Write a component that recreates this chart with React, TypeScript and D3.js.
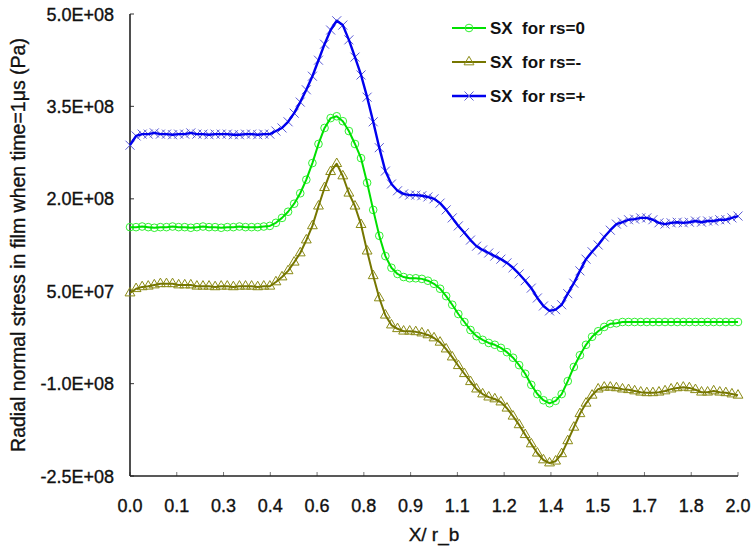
import React from 'react';
import * as d3 from 'd3';

// Radial normal stress SX in the film (MPa) sampled every 0.02 of X/r_b, from 0 to 2.0
const X_STEP = 0.02;

const sxRsZero = [
  154, 154, 155, 154, 153, 154, 154, 155, 154, 154,
  153, 154, 155, 154, 154, 153, 154, 154, 155, 154,
  154, 154, 155, 156, 161, 169, 179, 192, 209, 231,
  258, 289, 315, 331, 334, 326, 310, 289, 266, 226,
  182, 140, 107, 88, 78, 73, 71, 71, 70, 67,
  62, 54, 42, 28, 13, 0, -13, -23, -29, -34,
  -37, -42, -49, -58, -70, -84, -102, -117, -127, -132,
  -128, -117, -96, -73, -54, -37, -24, -15, -8, -3,
  -2, 0, 0, 0, 0, 0, 0, 0, 0, 0,
  0, 0, 0, 0, 0, 0, 0, 0, 0, 0,
  0,
];

const sxRsMinus = [
  47, 54, 57, 58, 60, 62, 62, 62, 60, 60,
  60, 58, 58, 58, 57, 58, 58, 57, 58, 58,
  58, 57, 58, 58, 65, 73, 83, 97, 112, 133,
  156, 188, 218, 244, 257, 237, 209, 188, 158, 115,
  75, 39, 11, -5, -11, -15, -15, -16, -18, -21,
  -26, -33, -44, -57, -71, -84, -97, -109, -117, -122,
  -125, -130, -140, -153, -167, -183, -198, -213, -224, -229,
  -226, -214, -193, -171, -149, -132, -119, -109, -106, -106,
  -107, -109, -110, -112, -114, -115, -115, -114, -112, -109,
  -107, -106, -107, -110, -114, -114, -112, -114, -115, -117,
  -119,
];

const sxRsPlus = [
  287, 302, 305, 305, 307, 305, 305, 304, 305, 305,
  307, 305, 305, 304, 305, 305, 305, 304, 304, 305,
  305, 304, 305, 305, 310, 315, 325, 339, 357, 377,
  399, 425, 451, 474, 489, 482, 458, 430, 401, 365,
  325, 283, 245, 224, 213, 208, 206, 206, 205, 203,
  200, 193, 182, 169, 156, 145, 133, 123, 117, 112,
  107, 102, 96, 88, 78, 67, 55, 39, 26, 18,
  20, 28, 46, 63, 83, 102, 114, 125, 138, 149,
  159, 162, 166, 167, 169, 169, 166, 161, 159, 161,
  162, 161, 162, 164, 162, 164, 164, 166, 166, 169,
  172,
];

const X_TICK_LABELS = ['0.0', '0.1', '0.3', '0.4', '0.6', '0.8', '0.9', '1.1', '1.2', '1.4', '1.5', '1.7', '1.8', '2.0'];
const Y_TICK_VALUES = [-2.5e8, -1.0e8, 5.0e7, 2.0e8, 3.5e8, 5.0e8];
const Y_TICK_LABELS = ['-2.5E+08', '-1.0E+08', '5.0E+07', '2.0E+08', '3.5E+08', '5.0E+08'];

const SERIES_NAMES = ['SX  for rs=0', 'SX  for rs=-', 'SX  for rs=+'];

const MPA = 1e6;
const WIDTH = 753;
const HEIGHT = 549;
const FONT = '"Liberation Sans", Arial, sans-serif';
const INK = '#111';

type Marker = 'circle' | 'triangle' | 'cross';

interface SeriesDef {
  name: string;
  values: number[];
  line: string;
  marker: string;
  shape: Marker;
  lineWidth: number;
}

const series: SeriesDef[] = [
  { name: SERIES_NAMES[1], values: sxRsMinus, line: '#767600', marker: '#8a8a14', shape: 'triangle', lineWidth: 2 },
  { name: SERIES_NAMES[0], values: sxRsZero, line: '#00e000', marker: '#30f030', shape: 'circle', lineWidth: 2 },
  { name: SERIES_NAMES[2], values: sxRsPlus, line: '#0000ee', marker: '#5a5ad6', shape: 'cross', lineWidth: 2.4 },
];

const legendOrder = [1, 0, 2];

function markerPath(shape: Marker): string {
  if (shape === 'circle') return d3.symbol(d3.symbolCircle, 46)() as string;
  if (shape === 'triangle') return d3.symbol(d3.symbolTriangle, 42)() as string;
  return 'M-4.5,-4.5L4.5,4.5M-4.5,4.5L4.5,-4.5';
}

// slightly heavier glyphs, like the printed labels
const heavy = { stroke: INK, strokeWidth: 0.35 };

export default function App() {
  const left = 130;
  const right = 738;
  const top = 14;
  const bottom = 476;

  const x = d3.scaleLinear().domain([0, 2]).range([left, right]);
  const y = d3.scaleLinear().domain([-2.5e8, 5e8]).range([bottom, top]);

  const xTicks = X_TICK_LABELS.map((label, i) => ({ label, value: (i * 2) / (X_TICK_LABELS.length - 1) }));

  const lineGen = d3
    .line<number>()
    .x((_, i) => x(i * X_STEP))
    .y((v) => y(v * MPA));

  return (
    <svg
      width={WIDTH}
      height={HEIGHT}
      viewBox={`0 0 ${WIDTH} ${HEIGHT}`}
      style={{ position: 'absolute', left: 0, top: 0, background: '#fff', fontFamily: FONT }}
    >
      <rect x={0} y={0} width={WIDTH} height={HEIGHT} fill="#fff" />

      {/* ticks (inward) */}
      {Y_TICK_VALUES.map((v) => (
        <line key={`yt${v}`} x1={left} x2={left + 4} y1={y(v)} y2={y(v)} stroke="#555" strokeWidth={1.2} />
      ))}
      {xTicks.map((t) => (
        <line key={`xt${t.label}`} x1={x(t.value)} x2={x(t.value)} y1={bottom} y2={bottom - 4} stroke="#777" strokeWidth={1} />
      ))}

      {/* axes */}
      <line x1={left} x2={left} y1={top} y2={bottom} stroke="#222" strokeWidth={1.6} />
      <line x1={left} x2={right} y1={bottom} y2={bottom} stroke="#222" strokeWidth={1.6} />

      {/* tick labels */}
      {Y_TICK_VALUES.map((v, i) => (
        <text key={`yl${v}`} x={114} y={y(v) + 6.5} textAnchor="end" fontSize={18} fill={INK} {...heavy}>
          {Y_TICK_LABELS[i]}
        </text>
      ))}
      {xTicks.map((t) => (
        <text key={`xl${t.label}`} x={x(t.value)} y={512} textAnchor="middle" fontSize={18} fill={INK} {...heavy}>
          {t.label}
        </text>
      ))}

      {/* axis titles */}
      <text x={434} y={541} textAnchor="middle" fontSize={19} fill={INK} {...heavy}>
        X/ r_b
      </text>
      <text
        transform={`translate(25, ${(top + bottom) / 2}) rotate(-90)`}
        textAnchor="middle"
        fontSize={19.5}
        fill={INK}
        {...heavy}
      >
        Radial normal stress in film when time=1μs (Pa)
      </text>

      {/* series */}
      {series.map((s) => (
        <g key={s.name}>
          {s.values.map((v, i) => (
            <path
              key={i}
              d={markerPath(s.shape)}
              transform={`translate(${x(i * X_STEP)},${y(v * MPA)})`}
              fill="none"
              stroke={s.marker}
              strokeWidth={1}
            />
          ))}
          <path d={lineGen(s.values) ?? ''} fill="none" stroke={s.line} strokeWidth={s.lineWidth} strokeLinejoin="round" />
        </g>
      ))}

      {/* legend */}
      {legendOrder.map((si, row) => {
        const s = series[si];
        const cy = 28 + row * 34;
        return (
          <g key={`lg${s.name}`}>
            <line x1={452} x2={486} y1={cy} y2={cy} stroke={s.line} strokeWidth={s.lineWidth} />
            <path d={markerPath(s.shape)} transform={`translate(469,${cy})`} fill="none" stroke={s.marker} strokeWidth={1} />
            <text x={490} y={cy + 6} fontSize={17} fontWeight="bold" fill={INK} style={{ whiteSpace: 'pre' }}>
              {s.name}
            </text>
          </g>
        );
      })}
    </svg>
  );
}
